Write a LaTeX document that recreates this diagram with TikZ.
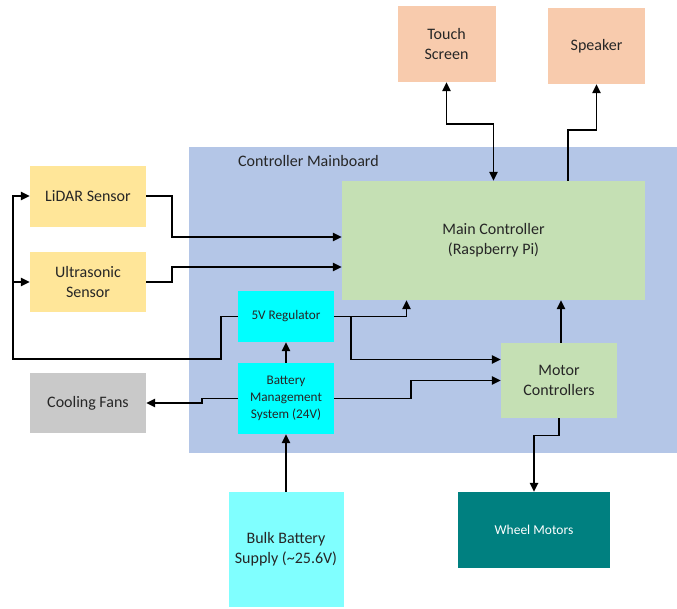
\documentclass[tikz,border=0pt]{standalone}
\usepackage{fontspec}
\setmainfont{Carlito}
\usetikzlibrary{arrows.meta}
\definecolor{boardblue}{HTML}{B4C6E7}
\definecolor{ctrlgreen}{HTML}{C5E0B4}
\definecolor{periph}{HTML}{F8CBAD}
\definecolor{sensor}{HTML}{FFE699}
\definecolor{power}{HTML}{00FFFF}
\definecolor{bulkcol}{HTML}{80FFFF}
\definecolor{fangrey}{HTML}{C9C9C9}
\definecolor{motorteal}{HTML}{008080}
\definecolor{txt}{HTML}{262626}
\tikzset{
  blk/.style={inner sep=0pt, align=center, text=txt,
    font=\fontsize{16}{20}\selectfont},
  smallblk/.style={blk, font=\fontsize{13.2}{16.7}\selectfont},
  wire/.style={line width=1.5pt, black},
  arr/.style={wire, -{Triangle[length=9pt,width=8.5pt]}},
  twoway/.style={wire, {Triangle[length=9pt,width=8.5pt]}-{Triangle[length=9pt,width=8.5pt]}}
}
\begin{document}
\begin{tikzpicture}[x=1pt,y=-1pt]
\useasboundingbox (0,0) rectangle (677,608);

% mainboard area and its caption
\node[fill=boardblue, minimum width=488pt, minimum height=306pt, inner sep=0pt] (board) at (433,300) {};
\node[blk, anchor=west] (boardlbl) at (238,161) {Controller Mainboard};

% blocks on the mainboard
\node[blk, fill=ctrlgreen, minimum width=303pt, minimum height=119pt] (main) at (493.5,240.5) {Main Controller\\(Raspberry Pi)};
\node[smallblk, fill=power, minimum width=96pt, minimum height=51pt] (reg) at (286,316.5) {5V Regulator};
\node[smallblk, fill=power, minimum width=96pt, minimum height=71pt] (bms) at (286,398.5) {Battery\\Management\\System (24V)};
\node[blk, fill=ctrlgreen, minimum width=116pt, minimum height=75pt] (mc) at (559,380.5) {Motor\\Controllers};

% peripherals
\node[blk, fill=periph, minimum width=98pt, minimum height=76pt] (touch) at (446.5,44) {Touch\\Screen};
\node[blk, fill=periph, minimum width=97pt, minimum height=76pt] (speaker) at (596.5,46) {Speaker};
\node[blk, fill=sensor, minimum width=116pt, minimum height=61pt] (lidar) at (88,196) {LiDAR Sensor};
\node[blk, fill=sensor, minimum width=116pt, minimum height=60pt] (ultra) at (88,282) {Ultrasonic\\Sensor};
\node[blk, fill=fangrey, minimum width=116pt, minimum height=60pt] (fans) at (88,403) {Cooling Fans};
\node[blk, fill=bulkcol, minimum width=115pt, minimum height=115pt] (bulk) at (286,549.5) {Bulk Battery\\Supply (\textasciitilde 25.6V)};
\node[smallblk, fill=motorteal, text=white, minimum width=152pt, minimum height=76pt, font=\fontsize{13.5}{16}\selectfont] (wheel) at (534,530) {Wheel Motors};

% connectors to the peripherals at the top
\draw[twoway] (touch.south) -- ++(0,42) -| (main.north);
\draw[arr] ([xshift=74.5pt]main.north) -- ++(0,-51) -| (speaker.south);

% sensors into the main controller
\draw[arr] (lidar.east) -- ++(26,0) |- ([yshift=3.5pt]main.west);
\draw[arr] (ultra.east) -- ++(26,0) |- ([yshift=-26.5pt]main.west);

% 5 V feed back to the sensors
\coordinate (loopc) at (13,359);
\draw[arr] (reg.west) -- ++(-17,0) |- (loopc) |- (lidar.west);
\draw[arr] (loopc |- ultra.west) -- (ultra.west);

% power distribution
\draw[arr] (bulk.north) -- (bms.south);
\draw[arr] (bms.north) -- (reg.south);
\draw[arr] (reg.east) -| ([xshift=-87pt]main.south);
\draw[arr] ([xshift=17pt]reg.east) |- ([yshift=21pt]mc.west);
\draw[arr] (bms.east) -- ++(77,0) |- (mc.west);
\draw[arr] (bms.west) -- ++(-36,0) |- (fans.east);

% motor path
\draw[arr] ([xshift=2pt]mc.north) -- ([xshift=2pt]mc.north |- main.south);
\draw[arr] (mc.south) -- ++(0,17.5) -| (wheel.north);
\end{tikzpicture}
\end{document}
